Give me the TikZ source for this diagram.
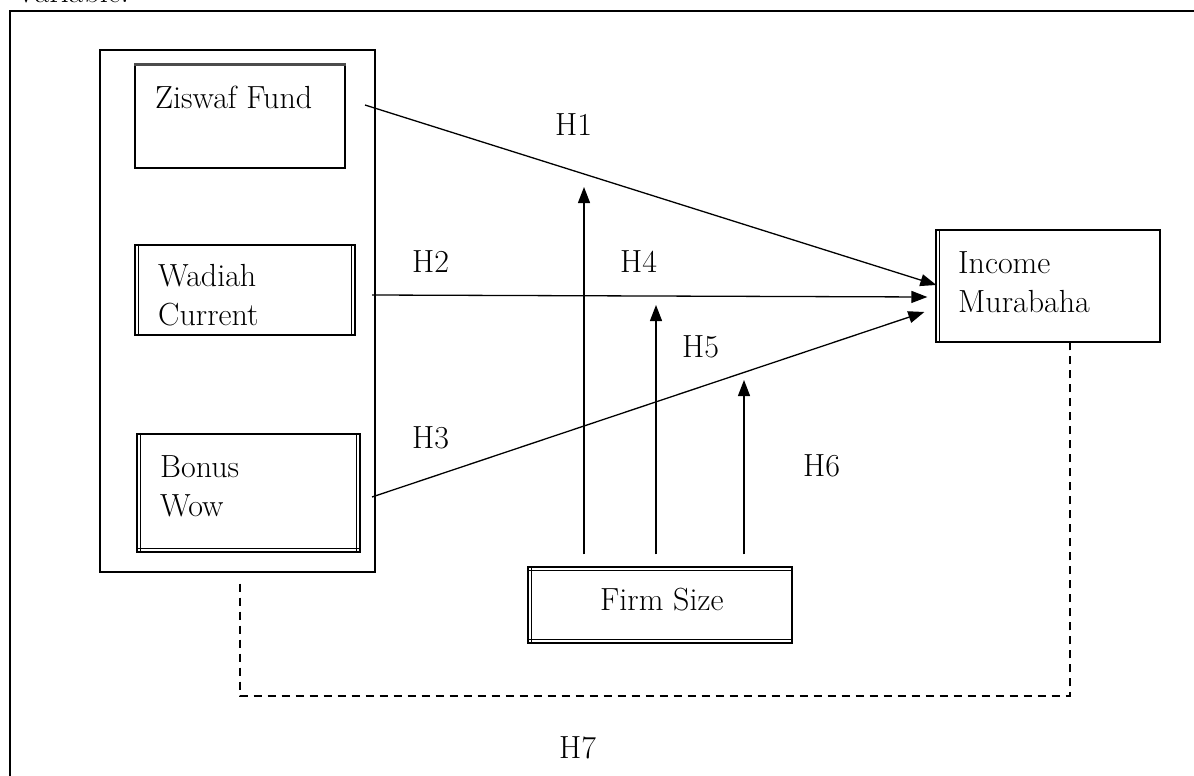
\documentclass[tikz,border=0pt]{standalone}
\usetikzlibrary{arrows.meta}

\tikzset{
  varbox/.style={draw,line width=1.3pt,inner sep=0pt},
  vartext/.style={anchor=base west,inner sep=0pt,align=left,font=\fontsize{32}{39}\selectfont},
  hlabel/.style={anchor=base west,inner sep=0pt,font=\fontsize{32}{38}\selectfont},
  hyp/.style={line width=1.3pt,-{Triangle[length=16pt,width=12pt]}},
  dashlink/.style={line width=1.5pt,dash pattern=on 8pt off 6pt}
}

\begin{document}
\begin{tikzpicture}[x=1pt,y=-1pt]
\useasboundingbox (0,0) rectangle (1194,776);
\draw[line width=1.6pt] (1200,790) -- (10,790) -- (10,11) -- (1200,11);
\node[hlabel] (title) at (15,3) {Variable:};

% independent variables
\node[varbox,minimum width=275,minimum height=522] (group) at (237.5,311) {};
\node[varbox,minimum width=210,minimum height=103] (ziswaf) at (240,116.5) {};
\node[varbox,minimum width=220,minimum height=90] (wadiah) at (245,290) {};
\node[varbox,minimum width=223,minimum height=118] (bonus) at (248.5,493) {};
\draw[line width=3pt,black!70] (ziswaf.north west) -- (ziswaf.north east);
\draw[line width=1.3pt] ([xshift=4]wadiah.north west) -- ([xshift=4]wadiah.south west);
\draw[line width=1.3pt] ([xshift=-4]wadiah.north east) -- ([xshift=-4]wadiah.south east);
\draw[line width=1.3pt] ([xshift=4]bonus.north west) -- ([xshift=4]bonus.south west);
\draw[line width=1.3pt] ([xshift=-4]bonus.north east) -- ([xshift=-4]bonus.south east);
\draw[line width=1.3pt] ([yshift=4]bonus.south west) -- ([yshift=4]bonus.south east);
\node[vartext] (ziswaft) at (155,108) {Ziswaf Fund};
\node[vartext] (wadiaht) at (158,325) {Wadiah\\Current};
\node[vartext] (bonust) at (160,516) {Bonus\\Wow};

% dependent and moderating
\node[varbox,minimum width=224,minimum height=112] (income) at (1048,286) {};
\draw[line width=1.3pt] ([xshift=4]income.north west) -- ([xshift=4]income.south west);
\node[vartext] (incomet) at (958,312) {Income\\Murabaha};
\node[varbox,minimum width=264,minimum height=76] (firm) at (660,605) {};
\draw[line width=1.3pt] ([yshift=-4]firm.north west) -- ([yshift=-4]firm.north east);
\draw[line width=1.3pt] ([yshift=4]firm.south west) -- ([yshift=4]firm.south east);
\draw[line width=1.3pt] ([xshift=4]firm.north west) -- ([xshift=4]firm.south west);
\node[vartext] (firmt) at (600,610) {Firm Size};

% hypotheses
\coordinate (h1s) at (365,105);
\coordinate (h2s) at (372,295);
\coordinate (h3s) at (372,497);
\draw[hyp] (h1s) -- ([shift={(1,-1)}]income.west);
\draw[hyp] (h2s) -- ([shift={(-8,11)}]income.west);
\draw[hyp] (h3s) -- ([shift={(-11,26)}]income.west);
\draw[hyp] (firm.north west -| 584,0) ++(0,-12) -- (584,187);
\draw[hyp] (firm.north west -| 656,0) ++(0,-12) -- (656,305);
\draw[hyp] (firm.north west -| 744,0) ++(0,-12) -- (744,380);
\draw[dashlink] (group.south -| 240,0) ++(0,11) |- (1070,696) -- (income.south -| 1070,0);

\node[hlabel] (h1) at (555,135) {H1};
\node[hlabel] (h2) at (412,272) {H2};
\node[hlabel] (h3) at (412,448) {H3};
\node[hlabel] (h4) at (620,272) {H4};
\node[hlabel] (h5) at (682,357) {H5};
\node[hlabel] (h6) at (803,476) {H6};
\node[hlabel] (h7) at (559,758) {H7};
\end{tikzpicture}
\end{document}
